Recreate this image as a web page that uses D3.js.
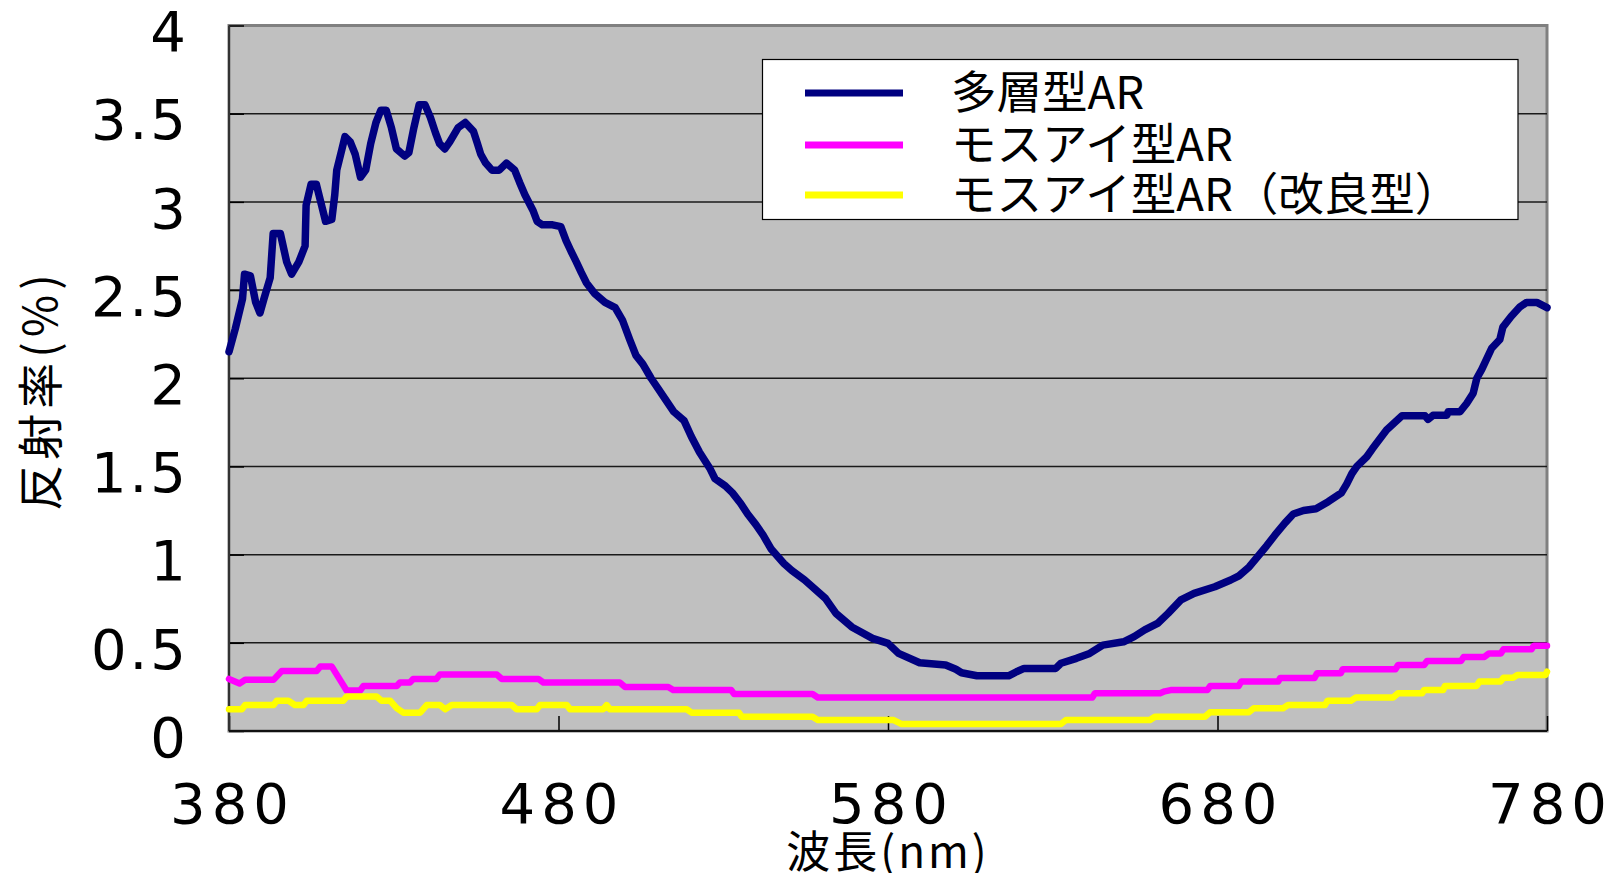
<!DOCTYPE html>
<html>
<head>
<meta charset="utf-8">
<script src="https://cdn.jsdelivr.net/npm/d3@7"></script>
<style>
  body { margin: 0; background: #fff; }
  svg { display: block; }
</style>
</head>
<body>
<script>
// wavelength (nm) and reflectance (%)
const wlMulti = [380,381.9,384.1,384.7,386.5,388.1,389.4,390.6,392.5,393.4,395.6,397.5,399.0,401.2,403.1,403.4,404.9,406.5,408.1,409.3,
  411.2,412.1,412.7,414.3,415.2,416.8,418.3,419.9,421.5,423.0,424.6,426.1,427.7,429.3,430.8,433.3,434.6,436.1,437.7,439.5,
  441.1,442.7,443.9,445.5,447.0,449.5,451.7,454.2,455.4,456.4,457.9,459.8,462.0,464.2,466.7,468.2,469.8,472.3,473.5,475.1,
  478.2,480.7,482.3,483.8,485.4,486.9,488.5,491.0,494.1,497.2,499.4,501.6,503.5,505.6,508.1,510.3,512.8,515.0,518.1,520.3,
  522.8,525.9,527.5,530.6,532.8,535.3,537.4,539.9,542.1,544.6,548.4,550.8,554.7,561.0,564.2,569.0,575.3,580.0,583.2,589.6,
  597.5,600.6,602.3,607.0,616.6,619.0,621.3,630.9,632.5,637.2,641.2,645.2,651.5,654.7,657.9,661.8,665.0,668.9,672.9,679.2,
  684.0,686.5,689.6,692.7,694.9,697.4,700.5,703.0,706.1,709.9,713.6,717.6,719.2,720.8,722.3,725.3,727.0,731.3,736.0,743.0,
  743.9,745.4,749.6,750.0,753.6,755.6,757.6,758.7,760.2,763.2,765.7,766.6,769.1,771.8,773.8,776.9,780];
const multiLayer = [2.15,2.28,2.45,2.59,2.58,2.43,2.37,2.45,2.57,2.82,2.82,2.66,2.59,2.66,2.75,2.98,3.10,3.10,2.98,2.89,
  2.90,3.04,3.18,3.30,3.37,3.34,3.27,3.14,3.18,3.33,3.45,3.52,3.52,3.42,3.30,3.26,3.28,3.42,3.55,3.55,
  3.48,3.39,3.33,3.30,3.34,3.42,3.45,3.40,3.33,3.27,3.22,3.18,3.18,3.22,3.18,3.11,3.04,2.95,2.89,2.87,
  2.87,2.86,2.78,2.72,2.66,2.60,2.54,2.48,2.43,2.40,2.33,2.22,2.13,2.08,2.00,1.94,1.87,1.81,1.76,1.67,
  1.58,1.49,1.43,1.39,1.35,1.29,1.23,1.17,1.11,1.03,0.95,0.91,0.856,0.752,0.667,0.59,0.525,0.497,0.44,0.387,
  0.374,0.35,0.33,0.313,0.313,0.336,0.355,0.355,0.384,0.412,0.44,0.487,0.506,0.535,0.573,0.61,0.667,0.743,0.78,0.818,
  0.856,0.88,0.93,1.00,1.05,1.11,1.18,1.23,1.25,1.26,1.30,1.35,1.40,1.46,1.50,1.555,1.60,1.706,1.787,1.787,
  1.767,1.79,1.79,1.81,1.81,1.857,1.915,2.0,2.05,2.17,2.22,2.29,2.35,2.405,2.43,2.43,2.40];

const wlMoth = [380,383.2,384.9,393.5,396,406.6,407.7,411.2,413.7,415.7,419.8,420.8,430.9,431.9,434.9,435.9,442.9,444,461.3,462.8,
  473.9,475.4,498.6,500.2,513.3,514.8,532.4,533.3,557.1,558.7,642,642.8,662.6,664,665.8,676.9,677.8,686.4,687.2,698.4,
  699,709.4,710.2,717.4,718,734,734.8,742.7,743.6,753.9,754.7,761,762.4,766,766.8,775.3,776,780];
const mothEye = [0.295,0.27,0.29,0.29,0.34,0.34,0.365,0.365,0.29,0.23,0.23,0.255,0.255,0.275,0.275,0.295,0.295,0.32,0.32,0.295,
  0.295,0.275,0.275,0.25,0.25,0.232,0.232,0.21,0.21,0.19,0.19,0.214,0.214,0.225,0.232,0.232,0.255,0.255,0.28,0.28,
  0.30,0.30,0.327,0.327,0.35,0.35,0.374,0.374,0.397,0.397,0.42,0.42,0.44,0.44,0.463,0.463,0.484,0.484];

const wlMothImp = [380,383.9,384.9,393.5,394.5,398,400,402.6,403.6,414.7,415.7,424.8,426.3,428.9,430.9,432.9,438,440,444,445.6,
  447.6,465.8,467.3,473.4,474.4,482.5,483.5,493.5,494.6,495.6,518.9,520.4,534.8,535.6,557.1,558.7,581.7,584,632.5,634,
  659.5,661,676.2,677.7,689.5,691,699.9,701.4,712.6,713.4,720.5,722,733.3,734.8,742.1,742.7,748.5,749,758.6,759.5,
  765.9,766.8,769.7,771,779.5,780];
const mothEyeImp = [0.123,0.123,0.147,0.147,0.172,0.172,0.147,0.147,0.172,0.172,0.195,0.195,0.172,0.172,0.13,0.104,0.104,0.147,0.147,0.123,
  0.147,0.147,0.123,0.123,0.147,0.147,0.123,0.123,0.147,0.123,0.123,0.104,0.104,0.081,0.081,0.062,0.062,0.04,0.04,0.062,
  0.062,0.081,0.081,0.106,0.106,0.129,0.129,0.147,0.147,0.172,0.172,0.19,0.19,0.214,0.214,0.232,0.232,0.255,0.255,0.28,
  0.28,0.302,0.302,0.317,0.317,0.336];

const xTicks = [380, 480, 580, 680, 780];
const yTicks = [0, 0.5, 1, 1.5, 2, 2.5, 3, 3.5, 4];
const legendLabels = ["多層型AR", "モスアイ型AR", "モスアイ型AR（改良型）"];
const colors = ["#000080", "#ff00ff", "#ffff00"];

const W = 1614, H = 873;
const plotL = 229, plotR = 1547, plotT = 25.5, plotB = 731;

const svg = d3.select("body").append("svg")
  .attr("width", W)
  .attr("height", H);

const x = d3.scaleLinear().domain([380, 780]).range([plotL, plotR]);
const y = d3.scaleLinear().domain([0, 4]).range([plotB, plotT]);

// plot area
svg.append("rect")
  .attr("x", plotL).attr("y", plotT)
  .attr("width", plotR - plotL).attr("height", plotB - plotT)
  .attr("fill", "#c0c0c0")
  .attr("stroke", "#808080")
  .attr("stroke-width", 3);

// grid
svg.selectAll("line.grid")
  .data(yTicks.filter(d => d > 0 && d < 4))
  .enter()
  .append("line")
  .attr("class", "grid")
  .attr("x1", plotL).attr("x2", plotR)
  .attr("y1", d => y(d)).attr("y2", d => y(d))
  .attr("stroke", "#1a1a1a")
  .attr("stroke-width", 1.5);

const xAxis = svg.append("g")
  .attr("transform", `translate(0,${plotB})`)
  .call(d3.axisBottom(x).tickValues(xTicks).tickSize(-15).tickPadding(52).tickFormat(d3.format("d")));
const yAxis = svg.append("g")
  .attr("transform", `translate(${plotL},0)`)
  .call(d3.axisLeft(y).tickValues(yTicks).tickSize(-15).tickPadding(40).tickFormat(d => d));

[xAxis, yAxis].forEach(g => {
  g.select(".domain").remove();
  g.selectAll(".tick line").attr("stroke", "#000").attr("stroke-width", 1.5);
  g.selectAll(".tick text")
    .attr("font-family", "'DejaVu Sans', sans-serif")
    .attr("font-size", "56px")
    .attr("fill", "#000");
});
xAxis.selectAll(".tick text").attr("letter-spacing", "6px").attr("dx", "3px");
yAxis.selectAll(".tick text").attr("dy", "0.45em").attr("letter-spacing", "3px");

// axis lines
svg.append("line")
  .attr("x1", plotL).attr("x2", plotL).attr("y1", plotT).attr("y2", plotB)
  .attr("stroke", "#333").attr("stroke-width", 2);
svg.append("line")
  .attr("x1", plotL).attr("x2", plotR).attr("y1", plotB).attr("y2", plotB)
  .attr("stroke", "#111").attr("stroke-width", 2);

// series
const series = [
  { wl: wlMulti, v: multiLayer, width: 7.5 },
  { wl: wlMoth, v: mothEye, width: 6.5 },
  { wl: wlMothImp, v: mothEyeImp, width: 6.5 }
];
const line = d3.line().x(d => x(d[0])).y(d => y(d[1]));

series.forEach((s, i) => {
  svg.append("path")
    .datum(s.wl.map((w, j) => [w, s.v[j]]))
    .attr("d", line)
    .attr("fill", "none")
    .attr("stroke", colors[i])
    .attr("stroke-width", s.width)
    .attr("stroke-linejoin", "round")
    .attr("stroke-linecap", "round");
});

// legend
const lg = svg.append("g");
lg.append("rect")
  .attr("x", 762.5).attr("y", 59.5)
  .attr("width", 755.5).attr("height", 160)
  .attr("fill", "#fff")
  .attr("stroke", "#000")
  .attr("stroke-width", 1.2);

const rowY = [93, 145, 195];
legendLabels.forEach((lab, i) => {
  lg.append("line")
    .attr("x1", 805).attr("x2", 903)
    .attr("y1", rowY[i]).attr("y2", rowY[i])
    .attr("stroke", colors[i])
    .attr("stroke-width", 7);
  lg.append("text")
    .attr("x", 951).attr("y", rowY[i])
    .attr("dy", "0.36em")
    .attr("font-family", "'Noto Sans CJK JP', sans-serif")
    .attr("font-size", "45.5px")
    .attr("fill", "#000")
    .text(lab);
});

// axis titles
svg.append("text")
  .attr("x", 888).attr("y", 868)
  .attr("text-anchor", "middle")
  .attr("font-family", "'Noto Sans CJK JP', sans-serif")
  .attr("font-size", "44px")
  .attr("letter-spacing", "3px")
  .attr("fill", "#000")
  .text("波長(nm)");

svg.append("text")
  .attr("transform", "translate(57,390) rotate(-90)")
  .attr("text-anchor", "middle")
  .attr("font-family", "'Noto Sans CJK JP', sans-serif")
  .attr("font-size", "46px")
  .attr("letter-spacing", "5px")
  .attr("fill", "#000")
  .text("反射率(%)");
</script>
</body>
</html>
